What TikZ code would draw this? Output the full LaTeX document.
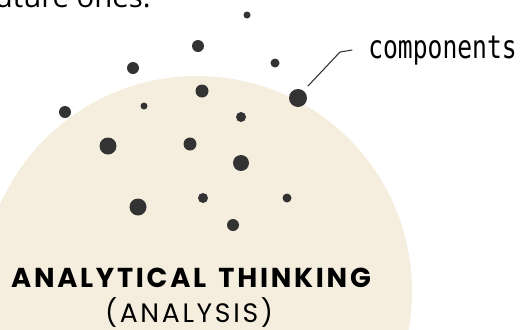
\documentclass[tikz,border=0pt]{standalone}
\usepackage{graphicx}
\usepackage{fontspec}
\setmainfont{Open Sans}
\newfontfamily\titlefont{Poppins}[LetterSpace=10]
\newfontfamily\subfont{Poppins}[LetterSpace=10]
\newfontfamily\handfont{DejaVu Sans Mono}
\definecolor{sand}{HTML}{F5EEDE}
\definecolor{ink}{HTML}{333333}

\begin{document}
\begin{tikzpicture}[x=0.75pt, y=-0.75pt]
        \useasboundingbox (0,0) rectangle (522,329);
        \clip (0,0) rectangle (522,329);

        % Background circle
        \fill[sand] (197,291) circle[radius=161.25pt];

        % Text cut at the top
        \node[anchor=base east, inner sep=0pt, font=\fontsize{22}{26}\selectfont] (prev) at (151,7) {future ones.};

        % Draw dots
        \foreach \i/\x/\y/\d in {1/247/15/7, 2/198/46/12, 3/133/68/12, 4/202/91/13,
                                 5/65/112/12, 6/144/106/7, 7/241/117/10, 8/108/146/17,
                                 9/190/144/13, 10/241/163/16, 11/275/63/9, 12/298/98/18,
                                 13/138/207/17, 14/203/198/10, 15/233/225/12, 16/287/198/9}
            \node[circle, fill=ink, inner sep=0pt, minimum size=\d*0.75pt] (d\i) at (\x,\y) {};

        % Label for the dots
        \node[anchor=base west, inner sep=0pt, font=\handfont\fontsize{18.5}{22}\selectfont] (comp) at (368,58) {\scalebox{1}[1.3]{components}};
        \coordinate (tip) at (308,86);
        \coordinate (bend) at (340,52);
        \coordinate (tail) at (352,50);
        \draw[ink, line width=0.8pt, line cap=round] (tip) -- (bend) -- (tail);

        % Labels
        \node[anchor=base, inner sep=0pt, font=\titlefont\bfseries\fontsize{20.5}{24}\selectfont] (title) at (191,287) {ANALYTICAL\hspace{0.45em}THINKING};
        \node[anchor=base, inner sep=0pt, font=\subfont\fontsize{20}{24}\selectfont] (sub) at (189,322) {(ANALYSIS)};
    \end{tikzpicture}
\end{document}
